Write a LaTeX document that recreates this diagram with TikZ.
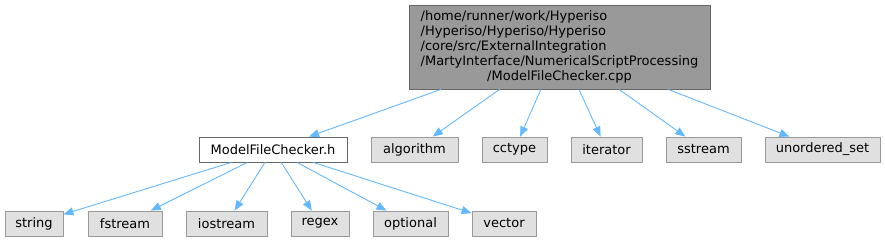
\documentclass[tikz,border=0pt]{standalone}
\usepackage{fontspec}
\setmainfont{DejaVu Sans}
\usetikzlibrary{arrows.meta}
\definecolor{edgeblue}{HTML}{63B8FF}
\definecolor{topfill}{HTML}{999999}
\definecolor{topdraw}{HTML}{666666}
\definecolor{leaffill}{HTML}{E0E0E0}
\definecolor{leafdraw}{HTML}{999999}
\tikzset{
  box/.style={rectangle, inner sep=0pt, minimum height=25pt, line width=0.8pt,
    font=\fontsize{13}{15}\selectfont},
  leaf/.style={box, fill=leaffill, draw=leafdraw},
  inc/.style={box, fill=white, draw=topdraw},
  edge/.style={draw=edgeblue, line width=0.9pt, -{Triangle[length=10pt,width=8pt]}},
}
\begin{document}
\begin{tikzpicture}[x=1pt,y=-1pt]
\useasboundingbox (0,0) rectangle (885,241);
\node[box, fill=topfill, draw=topdraw, minimum width=301pt, minimum height=84pt] (top) at (559.5,47)
 {\begin{tabular}{@{}l@{}}/home/runner/work/Hyperiso\\/Hyperiso/Hyperiso/Hyperiso\\/core/src/ExternalIntegration\\/MartyInterface/NumericalScriptProcessing\\\multicolumn{1}{@{}c@{}}{/ModelFileChecker.cpp}\end{tabular}};
\node[inc, minimum width=148pt] (mfc) at (273,149.5) {ModelFileChecker.h};
\node[leaf, minimum width=87pt] (algorithm) at (414.5,149.5) {algorithm};
\node[leaf, minimum width=65pt] (cctype) at (514.5,149.5) {cctype};
\node[leaf, minimum width=71pt] (iterator) at (606.5,149.5) {iterator};
\node[leaf, minimum width=75pt] (sstream) at (703.5,149.5) {sstream};
\node[leaf, minimum width=115pt] (uset) at (822.5,149.5) {unordered\_set};
\node[leaf, minimum width=58pt] (string) at (34,223.5) {string};
\node[leaf, minimum width=74pt] (fstream) at (125,223.5) {fstream};
\node[leaf, minimum width=81pt] (iostream) at (226.5,223.5) {iostream};
\node[leaf, minimum width=58pt] (regex) at (320,223.5) {regex};
\node[leaf, minimum width=75pt] (optional) at (410.5,223.5) {optional};
\node[leaf, minimum width=64pt] (vector) at (504,223.5) {vector};
\foreach \t in {mfc,algorithm,cctype,iterator,sstream,uset}
  \draw[edge] (top) -- (\t);
\foreach \t in {string,fstream,iostream,regex,optional,vector}
  \draw[edge] (mfc) -- (\t);
\end{tikzpicture}
\end{document}
